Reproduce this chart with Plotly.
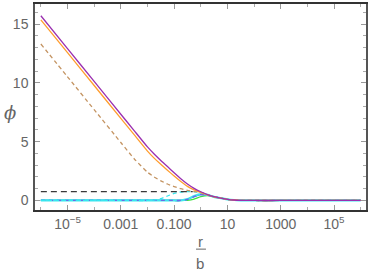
import plotly.graph_objects as go

# r/b sample points (log-spaced)
r = [1e-6, 1e-5, 1e-4, 1e-3, 0.00316, 0.01, 0.0178, 0.0316, 0.0562, 0.1, 0.178, 0.316,
     0.562, 1.0, 1.78, 3.16, 5.62, 10, 17.8, 31.6, 100, 1e3, 1e4, 1e5, 1e6]

phi_purple = [15.7, 12.91, 10.12, 7.33, 5.94, 4.55, 3.95, 3.4, 2.88, 2.35, 1.85, 1.4,
              1.03, 0.74, 0.5, 0.32, 0.2, 0.1, 0.04, 0.015, 0, 0, 0, 0, 0]
phi_orange = [15.35, 12.56, 9.77, 6.98, 5.59, 4.2, 3.6, 3.07, 2.57, 2.08, 1.62, 1.2,
              0.9, 0.67, 0.48, 0.31, 0.2, 0.1, 0.04, 0.015, 0, 0, 0, 0, 0]
phi_brown = [13.3, 10.51, 7.72, 4.93, 3.55, 2.4, 2.0, 1.67, 1.4, 1.18, 1.0, 0.86,
             0.76, 0.69, 0.49, 0.31, 0.2, 0.1, 0.04, 0.015, 0, 0, 0, 0, 0]
phi_cyan_dash = [0, 0, 0, 0, 0, 0, 0.03, 0.15, 0.38, 0.6, 0.72, 0.75,
                 0.74, 0.68, 0.48, 0.31, 0.2, 0.1, 0.04, 0.015, 0, 0, 0, 0, 0]
phi_cyan = [0, 0, 0, 0, 0, 0, 0, 0, 0, 0, 0, 0.12,
            0.38, 0.55, 0.47, 0.31, 0.2, 0.1, 0.04, 0.015, 0, 0, 0, 0, 0]
phi_blue = [0, 0, 0, 0, 0, 0, 0, 0, 0, 0, 0, 0.1,
            0.33, 0.5, 0.46, 0.31, 0.2, 0.1, 0.04, 0.015, 0, 0, 0, 0, 0]
phi_blue_dash = [0, 0, 0, 0, 0, 0, 0, 0, 0, 0, 0, 0.1,
                 0.33, 0.5, 0.46, 0.31, 0.2, 0.1, 0.04, 0.015, 0, 0, 0, 0, 0]
phi_green = [0, 0, 0, 0, 0, 0, 0, 0, 0, 0, 0, 0.02,
             0.12, 0.32, 0.42, 0.3, 0.2, 0.1, 0.04, 0.015, 0, 0, 0, 0, 0]

r_black = [1e-6, 0.5]
phi_black = [0.76, 0.76]

x_tickvals = [1e-5, 1e-3, 0.1, 10, 1000, 1e5]
x_ticktext = ["10<sup>\u22125</sup>", "0.001", "0.100", "10", "1000", "10<sup>5</sup>"]
x_minor = [1e-6, 1e-4, 1e-2, 1, 100, 1e4, 1e6]
y_tickvals = [0, 5, 10, 15]

fig = go.Figure()

def add(y, color, dash="solid", width=1.3, x=r):
    fig.add_trace(go.Scatter(x=x, y=y, mode="lines",
                             line=dict(color=color, width=width, dash=dash, shape="spline", smoothing=0.5),
                             showlegend=False, hoverinfo="skip"))

add(phi_green, "#3ee03e")
add(phi_blue, "#3346ff")
add(phi_cyan, "#3ee6ee", width=2.2)
add(phi_blue_dash, "#6a6ae8", dash="4px,4px")
add(phi_cyan_dash, "#35e8f0", dash="4px,3px")
add(phi_black, "#3a3a3a", dash="6px,4px", x=r_black)
add(phi_brown, "#c49462", dash="4px,3px")
add(phi_orange, "#ff9d2e")
add(phi_purple, "#9a2fb0")

font_tick = dict(family="Liberation Sans, Arial, sans-serif", size=14, color="#666666")

fig.update_layout(
    width=370, height=273,
    margin=dict(l=35, r=2, t=4, b=63),
    paper_bgcolor="white", plot_bgcolor="white",
    xaxis=dict(type="log", range=[-6.22, 6.2],
               tickvals=x_tickvals, ticktext=x_ticktext,
               ticks="inside", ticklen=5, tickcolor="#999999", tickwidth=1,
               showline=True, linecolor="#333333", linewidth=1.5, mirror="ticks",
               showgrid=False, zeroline=False, tickfont=font_tick,
               minor=dict(tickvals=x_minor, ticks="inside", ticklen=3,
                          tickcolor="#aaaaaa", showgrid=False)),
    yaxis=dict(range=[-0.81, 16.7], tickvals=y_tickvals,
               ticks="inside", ticklen=5, tickcolor="#999999", tickwidth=1,
               ticklabelstandoff=2,
               showline=True, linecolor="#555555", linewidth=1.5, mirror="ticks",
               showgrid=False, zeroline=False, tickfont=font_tick,
               minor=dict(dtick=1, tick0=0, ticks="inside", ticklen=3,
                          tickcolor="#aaaaaa", showgrid=False)),
    annotations=[
        dict(text="<i>\u03d5</i>", xref="paper", yref="paper", x=-0.075, y=0.475,
             showarrow=False, font=dict(family="DejaVu Serif, serif", size=18, color="#666666"),
             xanchor="center", yanchor="middle"),
        dict(text="r", xref="paper", yref="paper", x=0.4985, y=-0.152,
             showarrow=False, font=dict(family="Liberation Sans, Arial, sans-serif", size=15, color="#666666"),
             xanchor="center", yanchor="middle"),
        dict(text="b", xref="paper", yref="paper", x=0.4985, y=-0.262,
             showarrow=False, font=dict(family="Liberation Sans, Arial, sans-serif", size=15, color="#666666"),
             xanchor="center", yanchor="middle"),
    ],
    shapes=[dict(type="line", xref="paper", yref="paper",
                 x0=0.4865, x1=0.5165, y0=-0.19, y1=-0.19,
                 line=dict(color="#666666", width=1))],
)

fig.write_html("out.html", config={"displayModeBar": False},
               post_script="document.body.style.margin='0';document.body.style.padding='0';")
